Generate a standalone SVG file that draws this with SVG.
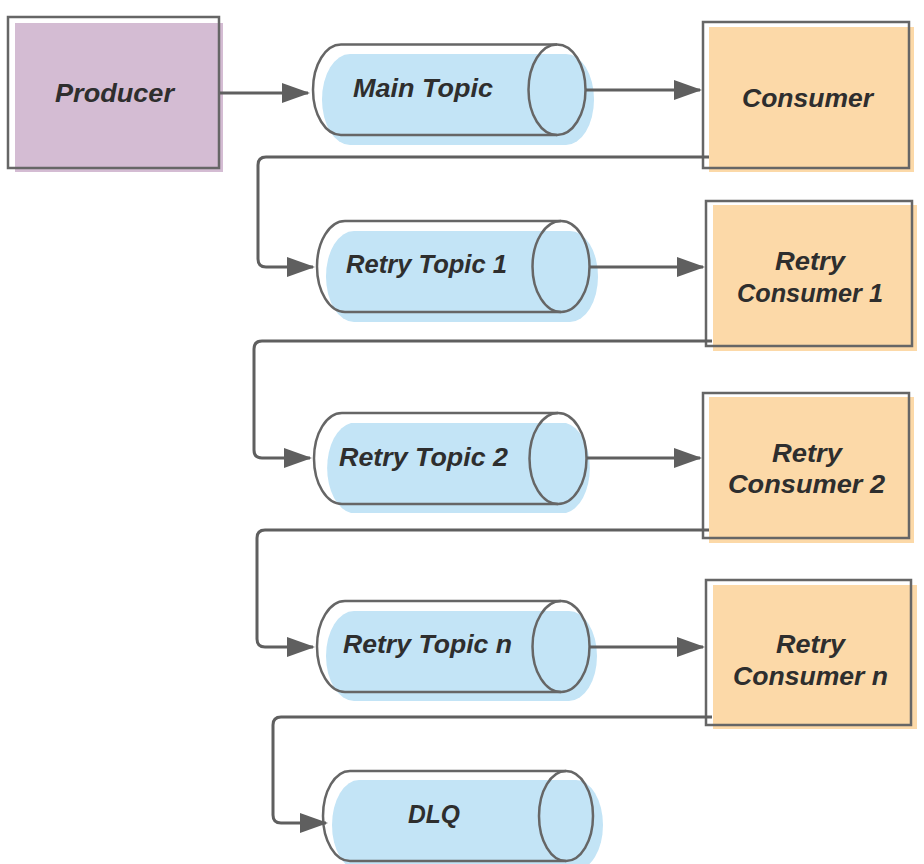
<svg xmlns="http://www.w3.org/2000/svg" width="924" height="864" viewBox="0 0 924 864">
<defs>
<style>
.ol{fill:none;stroke:#666;stroke-width:2.5}
.pf{fill:#D4BCD3}
.cf{fill:#FCD9A8}
.tf{fill:#C3E4F6}
.cn{fill:none;stroke:#5f5f5f;stroke-width:3}
text{font-family:"Liberation Sans",Arial,sans-serif;font-weight:bold;font-style:italic;font-size:26px;fill:#2e2e2e;text-anchor:middle}
</style>
<marker id="ah" markerUnits="userSpaceOnUse" markerWidth="30" markerHeight="22" refX="26" refY="10" orient="auto">
<path d="M0,0 L28,10 L0,20 z" fill="#5f5f5f"/>
</marker>
</defs>
<rect width="924" height="864" fill="#fff"/>
<g id="producer">
<rect class="pf" x="15" y="23" width="208" height="149"/>
<rect class="ol" x="8" y="17" width="211" height="151"/>
<text x="114.5" y="102" textLength="119" lengthAdjust="spacingAndGlyphs">Producer</text>
</g>
<g id="main-topic">
<path class="tf" d="M350,54 L566,54 A28 45.5 0 0 1 566,145 L350,145 A28 45.5 0 0 1 350,54 z"/>
<path class="ol" d="M557,44.5 L341,44.5 A28 45.25 0 0 0 341,135 L557,135"/>
<ellipse class="ol" cx="557" cy="89.75" rx="28.5" ry="45.25"/>
<text x="423" y="97" textLength="140" lengthAdjust="spacingAndGlyphs">Main Topic</text>
</g>
<g id="consumer">
<rect class="cf" x="709" y="27" width="205" height="145"/>
<rect class="ol" x="703" y="22" width="206" height="146"/>
<text x="807.5" y="107" textLength="131" lengthAdjust="spacingAndGlyphs">Consumer</text>
</g>
<g id="retry-topic-1">
<path class="tf" d="M354,231 L570,231 A28 45.5 0 0 1 570,322 L354,322 A28 45.5 0 0 1 354,231 z"/>
<path class="ol" d="M561,221 L345,221 A28 45.5 0 0 0 345,312 L561,312"/>
<ellipse class="ol" cx="561" cy="266.5" rx="28.5" ry="45.5"/>
<text x="426.5" y="273" textLength="161" lengthAdjust="spacingAndGlyphs">Retry Topic 1</text>
</g>
<g id="retry-consumer-1">
<rect class="cf" x="713" y="205" width="204" height="146"/>
<rect class="ol" x="706" y="201" width="206" height="145"/>
<text x="810" y="270" textLength="70" lengthAdjust="spacingAndGlyphs">Retry</text>
<text x="810" y="302" textLength="146" lengthAdjust="spacingAndGlyphs">Consumer 1</text>
</g>
<g id="retry-topic-2">
<path class="tf" d="M351,423 L566,423 A28 45.5 0 0 1 566,513 L351,513 A28 45.5 0 0 1 351,423 z"/>
<path class="ol" d="M558,413 L342,413 A28 45.5 0 0 0 342,504 L558,504"/>
<ellipse class="ol" cx="558" cy="458.5" rx="28.5" ry="45.5"/>
<text x="423.5" y="466" textLength="169" lengthAdjust="spacingAndGlyphs">Retry Topic 2</text>
</g>
<g id="retry-consumer-2">
<rect class="cf" x="709" y="397" width="205" height="146"/>
<rect class="ol" x="703" y="393" width="206" height="145"/>
<text x="807" y="462" textLength="70" lengthAdjust="spacingAndGlyphs">Retry</text>
<text x="806.5" y="493" textLength="157" lengthAdjust="spacingAndGlyphs">Consumer 2</text>
</g>
<g id="retry-topic-n">
<path class="tf" d="M354,611 L569,611 A28 45 0 0 1 569,701 L354,701 A28 45 0 0 1 354,611 z"/>
<path class="ol" d="M561,601 L345,601 A28 45.5 0 0 0 345,692 L561,692"/>
<ellipse class="ol" cx="561" cy="646.5" rx="28.5" ry="45.5"/>
<text x="427.5" y="653" textLength="169" lengthAdjust="spacingAndGlyphs">Retry Topic n</text>
</g>
<g id="retry-consumer-n">
<rect class="cf" x="713" y="585" width="204" height="144"/>
<rect class="ol" x="706" y="580" width="205" height="145"/>
<text x="810.5" y="653" textLength="69" lengthAdjust="spacingAndGlyphs">Retry</text>
<text x="810.5" y="685" textLength="155" lengthAdjust="spacingAndGlyphs">Consumer n</text>
</g>
<g id="dlq">
<path class="tf" d="M359,780 L576,780 A27 45 0 0 1 576,870 L359,870 A27 45 0 0 1 359,780 z"/>
<path class="ol" d="M566,771 L350,771 A27 45 0 0 0 350,861 L566,861"/>
<ellipse class="ol" cx="566" cy="816" rx="27" ry="45"/>
<text x="434" y="823" textLength="52" lengthAdjust="spacingAndGlyphs">DLQ</text>
</g>
<g id="connectors">
<path class="cn" marker-end="url(#ah)" d="M220,93 L308,93"/>
<path class="cn" marker-end="url(#ah)" d="M586,90 L700,90"/>
<path class="cn" marker-end="url(#ah)" d="M709,157 L266,157 Q258,157 258,165 L258,259 Q258,267 266,267 L313,267"/>
<path class="cn" marker-end="url(#ah)" d="M590,267 L703,267"/>
<path class="cn" marker-end="url(#ah)" d="M712,341 L262,341 Q254,341 254,349 L254,450 Q254,458 262,458 L310,458"/>
<path class="cn" marker-end="url(#ah)" d="M587,458 L700,458"/>
<path class="cn" marker-end="url(#ah)" d="M709,530 L265,530 Q257,530 257,538 L257,639 Q257,647 265,647 L313,647"/>
<path class="cn" marker-end="url(#ah)" d="M589,647 L703,647"/>
<path class="cn" marker-end="url(#ah)" d="M712,717 L281,717 Q273,717 273,725 L273,815 Q273,823 281,823 L326,823"/>
</g>
</svg>
